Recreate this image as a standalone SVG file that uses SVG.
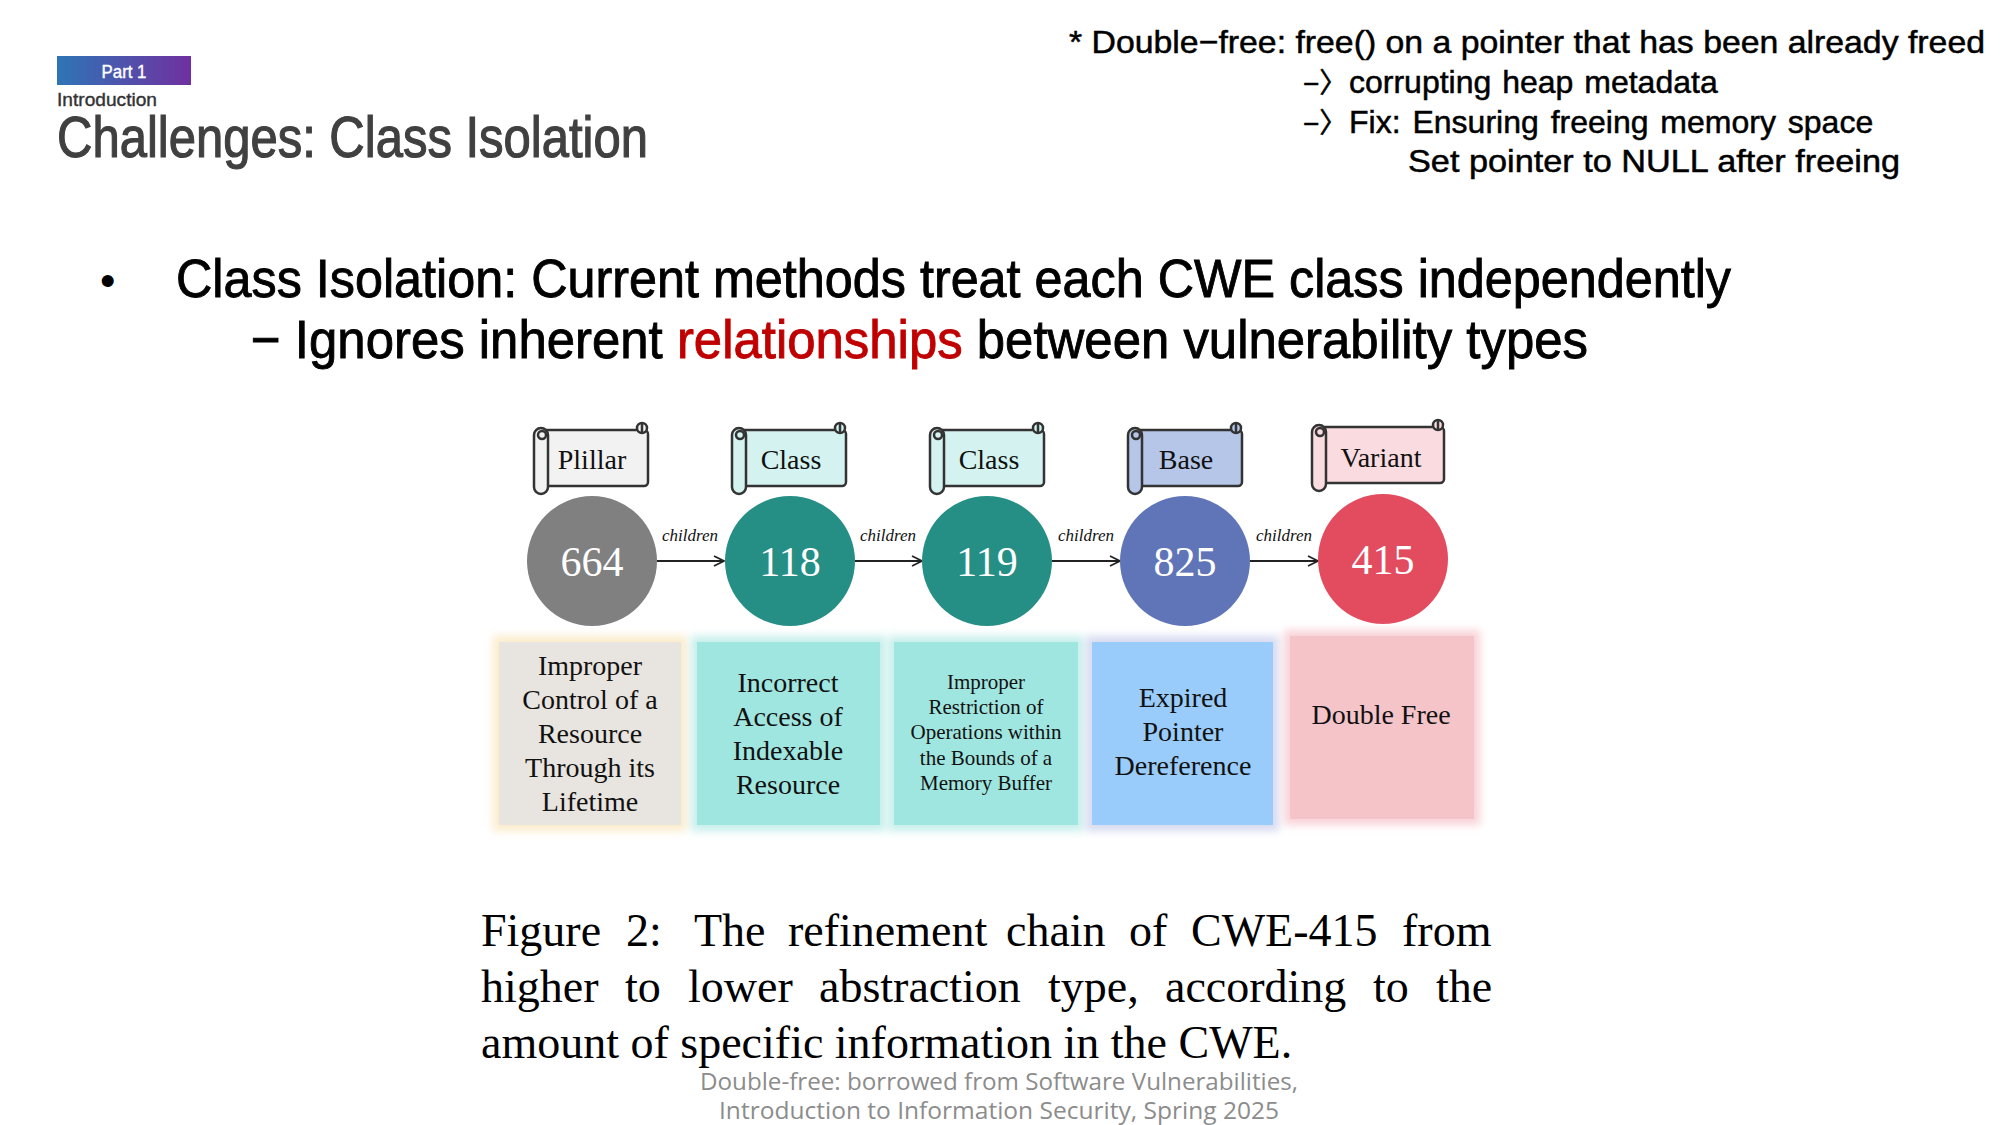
<svg xmlns="http://www.w3.org/2000/svg" width="2000" height="1125" viewBox="0 0 2000 1125">
<defs>
<linearGradient id="badge" x1="0" y1="0" x2="1" y2="0">
<stop offset="0" stop-color="#2e75b6"/>
<stop offset="1" stop-color="#7030a0"/>
</linearGradient>
<filter id="glow" x="-20%" y="-20%" width="140%" height="140%">
<feGaussianBlur stdDeviation="4"/>
</filter>
<marker id="arr" viewBox="0 0 12 12" refX="11" refY="6" markerWidth="12" markerHeight="12" markerUnits="userSpaceOnUse" orient="auto">
<path d="M1,1 L11,6 L1,11" fill="none" stroke="#222" stroke-width="1.8"/>
</marker>
<style>
.g{font-family:"Liberation Sans","Noto Sans CJK KR",sans-serif}
.sc{stroke:#333;stroke-width:2.5}
.num{font-family:"Liberation Serif",serif;font-size:42px;fill:#fff;text-anchor:middle}
.lab{font-family:"Liberation Serif",serif;font-size:28px;fill:#111;text-anchor:middle}
.ch{font-family:"Liberation Serif",serif;font-style:italic;font-size:17px;fill:#111;text-anchor:middle}
.bx{font-family:"Liberation Serif",serif;font-size:28px;fill:#111;text-anchor:middle}
.bxs{font-family:"Liberation Serif",serif;font-size:21px;fill:#111;text-anchor:middle}
.cap{font-family:"Liberation Serif",serif;font-size:46px;fill:#000}
.conn{stroke:#222;stroke-width:2;fill:none}
.arw{font-size:28px}
</style>
</defs>
<rect width="2000" height="1125" fill="#fff"/>

<g id="header">
<rect x="57" y="56" width="134" height="29" fill="url(#badge)"/>
<text class="g" x="124" y="78" font-size="18" fill="#fff" stroke="#fff" stroke-width="0.4" text-anchor="middle" textLength="45" lengthAdjust="spacingAndGlyphs">Part 1</text>
<text class="g" x="57" y="106" font-size="19" fill="#333" stroke="#333" stroke-width="0.4" textLength="100" lengthAdjust="spacingAndGlyphs">Introduction</text>
<text class="g" x="57" y="157" font-size="58" fill="#404040" stroke="#404040" stroke-width="1.2" textLength="591" lengthAdjust="spacingAndGlyphs">Challenges: Class Isolation</text>
</g>

<g id="note" class="g" font-size="32" fill="#000" stroke="#000" stroke-width="0.5">
<text x="1069" y="53" textLength="916" lengthAdjust="spacingAndGlyphs">* Double−free: free() on a pointer that has been already freed</text>
<text y="93"><tspan class="arw" x="1303">−〉</tspan><tspan x="1349" word-spacing="2">corrupting heap metadata</tspan></text>
<text y="133"><tspan class="arw" x="1303">−〉</tspan><tspan x="1349" word-spacing="3">Fix: Ensuring freeing memory space</tspan></text>
<text x="1408" y="172" textLength="492" lengthAdjust="spacingAndGlyphs">Set pointer to NULL after freeing</text>
</g>

<g id="bullets" class="g" fill="#000" stroke-width="0.9">
<text x="100" y="296" font-size="44">•</text>
<text x="176" y="297" font-size="53" stroke="#000" textLength="1555" lengthAdjust="spacingAndGlyphs">Class Isolation: Current methods treat each CWE class independently</text>
<text x="251" y="358" font-size="53" stroke="#000" textLength="1337" lengthAdjust="spacingAndGlyphs">− Ignores inherent <tspan fill="#c00000" stroke="#c00000">relationships</tspan> between vulnerability types</text>
</g>

<g id="scroll-pillar" transform="translate(534,422)">
<rect x="8" y="8" width="106" height="56" rx="4" fill="#f2f2f2" class="sc"/>
<circle cx="108" cy="6" r="5" fill="#f2f2f2" class="sc"/><line x1="108" y1="1" x2="108" y2="11" class="sc"/>
<rect x="0" y="6" width="14" height="66" rx="7" fill="#f2f2f2" class="sc"/>
<circle cx="8" cy="13" r="4" fill="#f2f2f2" class="sc"/>
<text class="lab" x="58" y="47">Plillar</text>
</g>
<g id="scroll-class1" transform="translate(732,422)">
<rect x="8" y="8" width="106" height="56" rx="4" fill="#d4f3f0" class="sc"/>
<circle cx="108" cy="6" r="5" fill="#d4f3f0" class="sc"/><line x1="108" y1="1" x2="108" y2="11" class="sc"/>
<rect x="0" y="6" width="14" height="66" rx="7" fill="#d4f3f0" class="sc"/>
<circle cx="8" cy="13" r="4" fill="#d4f3f0" class="sc"/>
<text class="lab" x="59" y="47">Class</text>
</g>
<g id="scroll-class2" transform="translate(930,422)">
<rect x="8" y="8" width="106" height="56" rx="4" fill="#d4f3f0" class="sc"/>
<circle cx="108" cy="6" r="5" fill="#d4f3f0" class="sc"/><line x1="108" y1="1" x2="108" y2="11" class="sc"/>
<rect x="0" y="6" width="14" height="66" rx="7" fill="#d4f3f0" class="sc"/>
<circle cx="8" cy="13" r="4" fill="#d4f3f0" class="sc"/>
<text class="lab" x="59" y="47">Class</text>
</g>
<g id="scroll-base" transform="translate(1128,422)">
<rect x="8" y="8" width="106" height="56" rx="4" fill="#b6c6e8" class="sc"/>
<circle cx="108" cy="6" r="5" fill="#b6c6e8" class="sc"/><line x1="108" y1="1" x2="108" y2="11" class="sc"/>
<rect x="0" y="6" width="14" height="66" rx="7" fill="#b6c6e8" class="sc"/>
<circle cx="8" cy="13" r="4" fill="#b6c6e8" class="sc"/>
<text class="lab" x="58" y="47">Base</text>
</g>
<g id="scroll-variant" transform="translate(1312,419)">
<rect x="8" y="8" width="124" height="56" rx="4" fill="#fadce0" class="sc"/>
<circle cx="126" cy="6" r="5" fill="#fadce0" class="sc"/><line x1="126" y1="1" x2="126" y2="11" class="sc"/>
<rect x="0" y="6" width="14" height="66" rx="7" fill="#fadce0" class="sc"/>
<circle cx="8" cy="13" r="4" fill="#fadce0" class="sc"/>
<text class="lab" x="69" y="48">Variant</text>
</g>

<g id="connectors">
<line x1="657" y1="561" x2="724" y2="561" class="conn" marker-end="url(#arr)"/>
<line x1="855" y1="561" x2="922" y2="561" class="conn" marker-end="url(#arr)"/>
<line x1="1052" y1="561" x2="1120" y2="561" class="conn" marker-end="url(#arr)"/>
<line x1="1250" y1="561" x2="1318" y2="561" class="conn" marker-end="url(#arr)"/>
<text class="ch" x="690" y="541">children</text>
<text class="ch" x="888" y="541">children</text>
<text class="ch" x="1086" y="541">children</text>
<text class="ch" x="1284" y="541">children</text>
</g>

<g id="node-664"><circle cx="592" cy="561" r="65" fill="#808080"/><text class="num" x="592" y="576">664</text></g>
<g id="node-118"><circle cx="790" cy="561" r="65" fill="#258f86"/><text class="num" x="790" y="576">118</text></g>
<g id="node-119"><circle cx="987" cy="561" r="65" fill="#258f86"/><text class="num" x="987" y="576">119</text></g>
<g id="node-825"><circle cx="1185" cy="561" r="65" fill="#5f75b8"/><text class="num" x="1185" y="576">825</text></g>
<g id="node-415"><circle cx="1383" cy="559" r="65" fill="#e34b5f"/><text class="num" x="1383" y="574">415</text></g>

<g id="box-1">
<rect x="493" y="636" width="194" height="195" fill="#fbeccb" filter="url(#glow)"/>
<rect x="499" y="642" width="182" height="183" fill="#e8e4df"/>
<text class="bx"><tspan x="590" y="675">Improper</tspan><tspan x="590" y="709">Control of a</tspan><tspan x="590" y="743">Resource</tspan><tspan x="590" y="777">Through its</tspan><tspan x="590" y="811">Lifetime</tspan></text>
</g>
<g id="box-2">
<rect x="691" y="636" width="195" height="195" fill="#c6efeb" filter="url(#glow)"/>
<rect x="697" y="642" width="183" height="183" fill="#a0e6e0"/>
<text class="bx"><tspan x="788" y="692">Incorrect</tspan><tspan x="788" y="726">Access of</tspan><tspan x="788" y="760">Indexable</tspan><tspan x="788" y="794">Resource</tspan></text>
</g>
<g id="box-3">
<rect x="888" y="636" width="196" height="195" fill="#c6efeb" filter="url(#glow)"/>
<rect x="894" y="642" width="184" height="183" fill="#a0e6e0"/>
<text class="bxs"><tspan x="986" y="689">Improper</tspan><tspan x="986" y="714">Restriction of</tspan><tspan x="986" y="739">Operations within</tspan><tspan x="986" y="765">the Bounds of a</tspan><tspan x="986" y="790">Memory Buffer</tspan></text>
</g>
<g id="box-4">
<rect x="1086" y="636" width="193" height="195" fill="#d5daf0" filter="url(#glow)"/>
<rect x="1092" y="642" width="181" height="183" fill="#99ccfa"/>
<text class="bx"><tspan x="1183" y="707">Expired</tspan><tspan x="1183" y="741">Pointer</tspan><tspan x="1183" y="775">Dereference</tspan></text>
</g>
<g id="box-5">
<rect x="1284" y="630" width="196" height="195" fill="#f8d2d8" filter="url(#glow)"/>
<rect x="1290" y="636" width="184" height="183" fill="#f5c4c9"/>
<text class="bx" x="1381" y="724">Double Free</text>
</g>

<g id="caption" class="cap">
<text y="946"><tspan x="481">Figure</tspan><tspan x="626">2:</tspan><tspan x="694">The</tspan><tspan x="788">refinement</tspan><tspan x="1006">chain</tspan><tspan x="1129">of</tspan><tspan x="1191">CWE-415</tspan><tspan x="1402">from</tspan></text>
<text y="1002"><tspan x="481">higher</tspan><tspan x="625">to</tspan><tspan x="688">lower</tspan><tspan x="819">abstraction</tspan><tspan x="1048">type,</tspan><tspan x="1165">according</tspan><tspan x="1373">to</tspan><tspan x="1436">the</tspan></text>
<text x="481" y="1058">amount of specific information in the CWE.</text>
</g>

<g id="footer" font-family="'Open Sans','Noto Sans',sans-serif" font-size="23" fill="#8c8c8c" text-anchor="middle">
<text x="999" y="1090" textLength="598" lengthAdjust="spacingAndGlyphs">Double-free: borrowed from Software Vulnerabilities,</text>
<text x="999" y="1119" textLength="560" lengthAdjust="spacingAndGlyphs">Introduction to Information Security, Spring 2025</text>
</g>
</svg>
